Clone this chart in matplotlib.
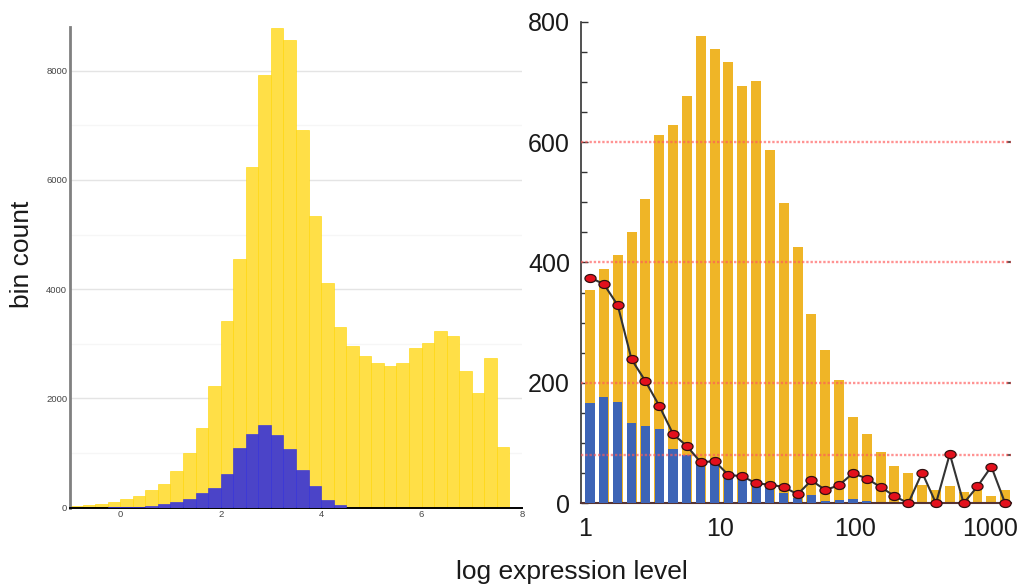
import numpy as np
import matplotlib
matplotlib.use("Agg")
import matplotlib.pyplot as plt
from matplotlib.path import Path
from matplotlib.ticker import MultipleLocator, FixedLocator

plt.rcParams['font.family'] = ['Liberation Sans', 'DejaVu Sans']

# Data: left histogram (linear log-expression bins) ----------------
left_edges = np.arange(-1.0, 7.76, 0.25)
all_genes = [30, 50, 70, 110, 160, 215, 320, 430, 670, 1000, 1465, 2225,
             3415, 4550, 6230, 7920, 8790, 8560, 6910, 5340, 4110, 3300,
             2955, 2770, 2645, 2590, 2645, 2920, 3010, 3230, 3140, 2510,
             2100, 2740, 1110]
subset_genes = [0, 0, 0, 5, 10, 20, 40, 75, 110, 160, 270, 365, 610, 1095,
                1350, 1510, 1330, 1070, 690, 400, 140, 50, 0, 0, 0, 0, 0,
                0, 0, 0, 0, 0, 0, 0, 0]

# Data: right histogram (log-spaced bins) --------------------------
right_total = [354, 390, 412, 451, 505, 612, 628, 676, 776, 755, 733, 694,
               701, 587, 498, 426, 314, 254, 204, 144, 115, 86, 62, 51, 30,
               22, 29, 18, 22, 12, 22]
right_subset = [166, 177, 169, 134, 128, 124, 90, 80, 68, 65, 45, 40, 30,
                25, 17, 9, 14, 4, 6, 7, 4, 0, 0, 0, 0, 0, 0, 0, 0, 0, 0]
right_ratio = [375, 364, 329, 239, 203, 162, 115, 95, 68, 70, 47, 45, 33,
               31, 27, 15, 38, 22, 30, 50, 41, 27, 12, 0, 51, 0, 82, 0, 28,
               61, 0]
right_ref_lines = [80, 200, 400, 600]
right_xticks = [1, 10, 100, 1000]

fig = plt.figure(figsize=(10.21, 5.85), dpi=100)

# Left panel -------------------------------------------------------
#
ax1 = fig.add_axes([0.0686, 0.1321, 0.4427, 0.8217])
w = np.diff(left_edges)
ax1.bar(left_edges[:-1], all_genes, width=w, align='edge',
        color='#ffdf47', edgecolor='#ffd600', linewidth=0.4, zorder=2)
ax1.bar(left_edges[:-1], subset_genes, width=w, align='edge',
        color='#4b44c8', edgecolor='#2a2ae8', linewidth=0.4, zorder=3)

ax1.set_xlim(-1, 8)
ax1.set_ylim(0, 8800)
ax1.set_xticks([0, 2, 4, 6, 8])
ax1.set_yticks([0, 2000, 4000, 6000, 8000])
ax1.yaxis.set_minor_locator(MultipleLocator(1000))
ax1.grid(axis='y', which='major', color='#e4e4e4', lw=1.0, zorder=0)
ax1.grid(axis='y', which='minor', color='#f6f6f6', lw=1.0, zorder=0)
ax1.set_axisbelow(True)
ax1.tick_params(which='both', length=0, labelsize=6.8, labelcolor='#444444', pad=2)
for s in ['top', 'right']:
    ax1.spines[s].set_visible(False)
ax1.spines['left'].set_color('#808080')
ax1.spines['left'].set_linewidth(2)
ax1.spines['bottom'].set_color('black')
ax1.spines['bottom'].set_linewidth(1.4)

# Right panel ------------------------------------------------------
#
ax2 = fig.add_axes([0.5691, 0.1397, 0.4212, 0.8232])
ax2.set_xscale('log')

n = len(right_total)
step = 0.1025
lc = 0.037 + step * np.arange(n)          # bin centres, log10 units
centers = 10 ** lc

def bar_span(frac):
    lo = 10 ** (lc - frac * step / 2)
    hi = 10 ** (lc + frac * step / 2)
    return lo, hi - lo

lo, wd = bar_span(0.72)
ax2.bar(lo, right_total, width=wd, align='edge', color='#efb527', lw=0, zorder=2)
lo, wd = bar_span(0.66)
ax2.bar(lo, right_subset, width=wd, align='edge', color='#3d64b6', lw=0, zorder=3)

for v in right_ref_lines:
    ax2.axhline(v, color='#ff5a5a', lw=1.7, ls=(0, (1, 0.8)), alpha=0.65, zorder=4)

t = np.linspace(0, 2 * np.pi, 41)
ellipse = Path(np.c_[np.cos(t), 0.72 * np.sin(t)], closed=True)
ax2.plot(centers, right_ratio, color='#333333', lw=1.5, zorder=5, clip_on=False)
ax2.plot(centers, right_ratio, ls='none', marker=ellipse, markersize=8,
         markerfacecolor='#e3101c', markeredgecolor='#301010',
         markeredgewidth=0.9, zorder=6, clip_on=False)

ax2.set_xlim(10 ** -0.0296, 10 ** 3.156)
ax2.set_ylim(0, 800)
ax2.xaxis.set_major_locator(FixedLocator(right_xticks))
ax2.set_xticklabels([str(v) for v in right_xticks])
ax2.xaxis.set_minor_locator(FixedLocator(centers[1::2]))
ax2.xaxis.set_minor_formatter(plt.NullFormatter())
ax2.set_yticks([0, 200, 400, 600, 800])
ax2.yaxis.set_minor_locator(MultipleLocator(50))
ax2.tick_params(axis='x', which='major', length=0, labelsize=18, pad=10,
                labelcolor='#1a1a1a')
ax2.tick_params(axis='x', which='minor', direction='in', length=4, width=1, color='#222222')
ax2.tick_params(axis='y', which='major', direction='in', length=5, width=1,
                labelsize=18, pad=8, color='#333333', labelcolor='#1a1a1a')
ax2.tick_params(axis='y', which='minor', direction='in', length=4, width=1, color='#333333')
for s in ['top', 'right']:
    ax2.spines[s].set_visible(False)
ax2.spines['left'].set_color('#333333')
ax2.spines['left'].set_linewidth(1.2)
ax2.spines['bottom'].set_color('#553333')
ax2.spines['bottom'].set_linewidth(1.5)

sec = ax2.secondary_yaxis('right')
sec.set_yticks(right_ref_lines)
sec.set_yticklabels([])
sec.tick_params(direction='in', length=3, width=1.5, color='#555555')
sec.spines['right'].set_visible(False)

# Shared labels ----------------------------------------------------
#
fig.text(572 / 1021, 1 - 572 / 585, 'log expression level', ha='center',
         va='center', fontsize=19, color='#1a1a1a')
fig.text(22 / 1021, 1 - 254 / 585, 'bin count', ha='center', va='center',
         rotation=90, fontsize=19, color='#1a1a1a')

fig.savefig('out.png', dpi=100)
